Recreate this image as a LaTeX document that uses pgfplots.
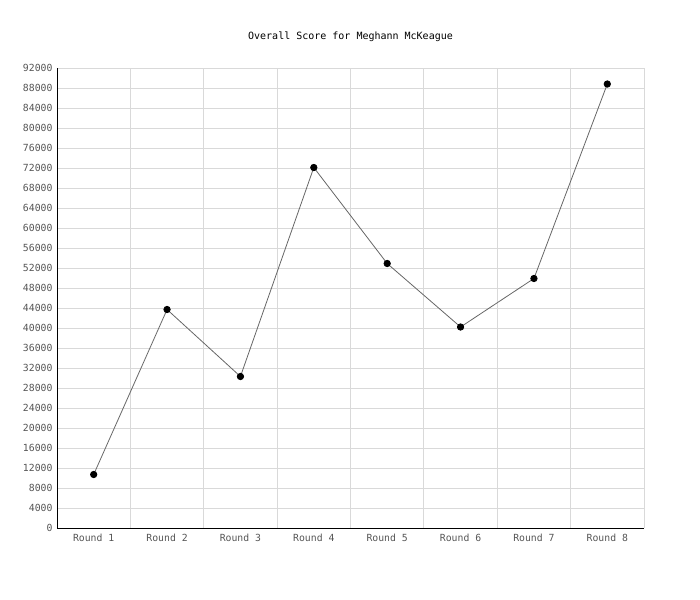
\documentclass[border=0pt]{standalone}
\usepackage{fontspec}
\setmainfont{DejaVu Sans Mono}
\usepackage{pgfplots}
\pgfplotsset{compat=1.18}
\definecolor{gridc}{HTML}{D9D9D9}
\definecolor{tickc}{HTML}{555555}
\definecolor{linec}{HTML}{666666}
\begin{document}
\begin{tikzpicture}
\path[use as bounding box] (-57bp,-72bp) rectangle (643bp,528bp);
\begin{axis}[
  at={(0,0)}, anchor=south west,
  scale only axis,
  width=587bp, height=460bp,
  xmin=-0.5, xmax=7.5,
  ymin=0, ymax=92000,
  xtick={0,...,7},
  xticklabels={Round 1,Round 2,Round 3,Round 4,Round 5,Round 6,Round 7,Round 8},
  minor xtick={-0.5,0.5,...,7.5},
  ytick={0,4000,...,92000},
  scaled y ticks=false,
  /pgf/number format/assume math mode=true,
  yticklabel={\pgfmathprintnumber[fixed,1000 sep={}]{\tick}},
  ymajorgrids=true, xminorgrids=true,
  grid style={gridc, line width=1bp},
  minor grid style={gridc, line width=1bp},
  major tick length=0pt, minor tick length=0pt,
  tick label style={font=\fontsize{9.8bp}{11bp}\selectfont, text=tickc},
  yticklabel style={xshift=-1bp},
  xticklabel style={yshift=-2.5bp},
  axis line style={draw=none},
  title={Overall Score for Meghann McKeague},
  title style={font=\fontsize{10bp}{12bp}\selectfont, at={(0.5,1)}, anchor=center, yshift=25bp},
  clip=false,
]
\addplot[linec, line width=0.8bp, mark=*, mark size=3.2bp, mark options={fill=black, draw=black}]
  coordinates {(0,10700)(1,43700)(2,30300)(3,72100)(4,52900)(5,40200)(6,49900)(7,88800)};
\draw[black, line width=1bp] (rel axis cs:0,1) -- (rel axis cs:0,0) -- (rel axis cs:1,0);
\end{axis}
\end{tikzpicture}
\end{document}
